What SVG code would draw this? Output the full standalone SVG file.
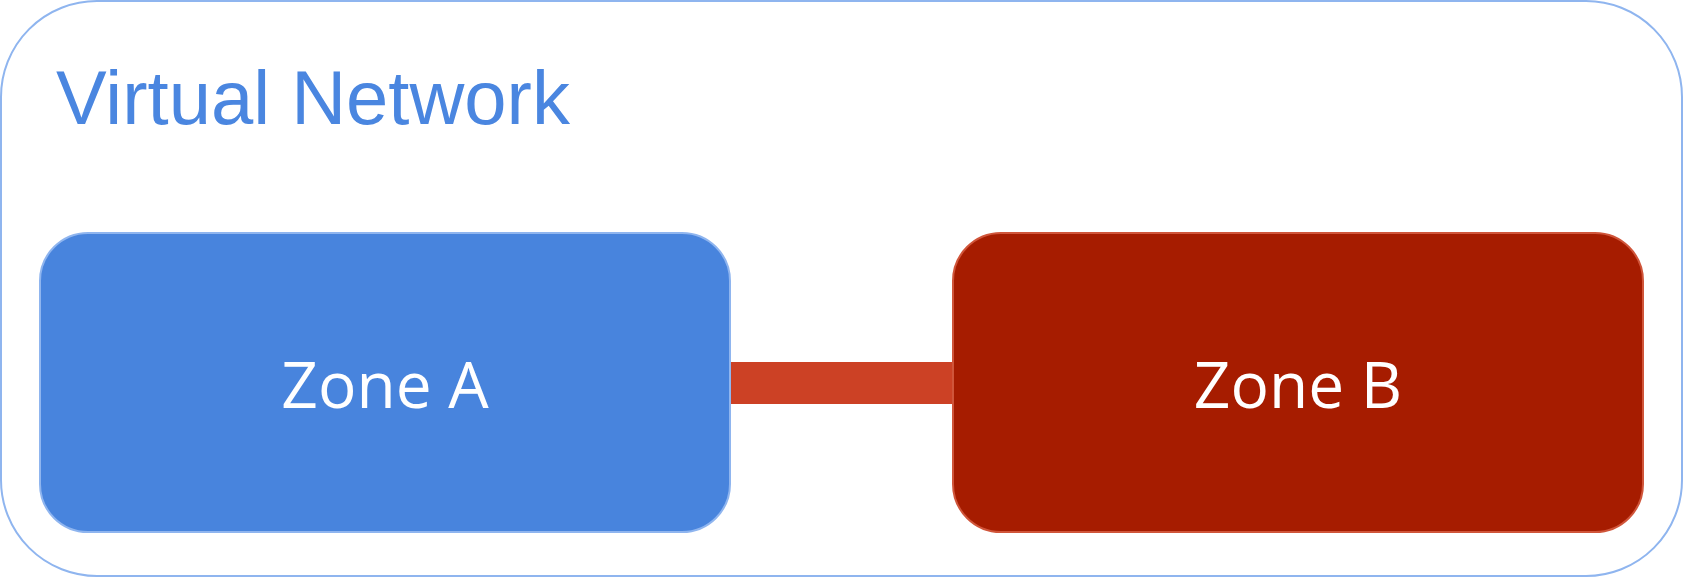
<svg xmlns="http://www.w3.org/2000/svg" width="1684" height="577" viewBox="0 0 1684 577">
  <style>
    .title { font-family: "Liberation Sans", Arial, sans-serif; font-size: 76px; fill: #4a86e0; }
    .label { font-family: "Open Sans", "Noto Sans", sans-serif; font-size: 64px; fill: #ffffff; text-anchor: middle; }
    .zoneA { fill: #4884dd; stroke: #8fb5ef; stroke-width: 2; }
    .zoneB { fill: #a61c00; stroke: #d0553a; stroke-width: 2; }
    .link { stroke: #cc4125; stroke-width: 42; fill: none; }
  </style>
  <rect width="1684" height="577" fill="#ffffff"/>
  <g id="virtual-network">
    <rect x="1" y="1" width="1681" height="575" rx="96" ry="96" fill="#ffffff" stroke="#8fb5ef" stroke-width="2"/>
    <text class="title" x="56" y="124">Virtual Network</text>
  </g>
  <g id="connectors">
    <line class="link" x1="730" y1="383" x2="953" y2="383"/>
  </g>
  <g id="zone-a">
    <rect class="zoneA" x="40" y="233" width="690" height="299" rx="48" ry="48"/>
    <text class="label" x="385" y="408">Zone A</text>
  </g>
  <g id="zone-b">
    <rect class="zoneB" x="953" y="233" width="690" height="299" rx="48" ry="48"/>
    <text class="label" x="1298" y="408">Zone B</text>
  </g>
</svg>
